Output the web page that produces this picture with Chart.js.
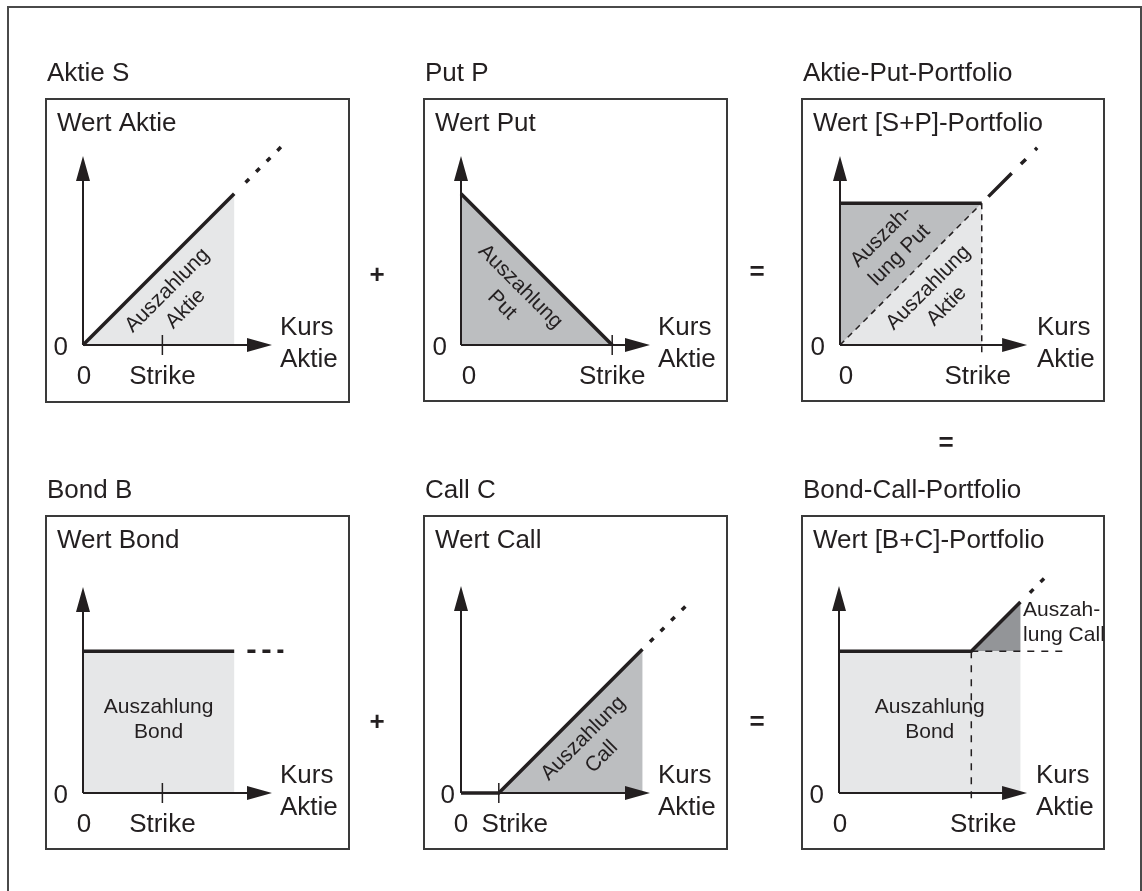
<!DOCTYPE html>
<html>
<head>
<meta charset="utf-8">
<script src="https://cdn.jsdelivr.net/npm/chart.js@4.4.1/dist/chart.umd.min.js"></script>
<style>
html,body{margin:0;padding:0;background:#fff;overflow:hidden;}
#wrap{position:relative;width:1142px;height:891px;overflow:hidden;background:#fff;}
#frame{position:absolute;left:7px;top:6px;width:1131px;height:1000px;border:2px solid #4a4a4a;border-bottom:none;}
canvas{position:absolute;left:0;top:0;}
</style>
</head>
<body>
<div id="wrap">
<div id="frame"></div>
<canvas id="c0" width="1142" height="891"></canvas>
<canvas id="c1" width="1142" height="891"></canvas>
<canvas id="c2" width="1142" height="891"></canvas>
<canvas id="c3" width="1142" height="891"></canvas>
<canvas id="c4" width="1142" height="891"></canvas>
<canvas id="c5" width="1142" height="891"></canvas>
</div>
<script>
// ---------------- texts ----------------
const panelTitles = ['Aktie S', 'Put P', 'Aktie-Put-Portfolio', 'Bond B', 'Call C', 'Bond-Call-Portfolio'];
const valueAxisLabels = ['Wert Aktie', 'Wert Put', 'Wert [S+P]-Portfolio', 'Wert Bond', 'Wert Call', 'Wert [B+C]-Portfolio'];
const priceAxisLabel = ['Kurs', 'Aktie'];
const strikeLabel = 'Strike';
const zeroLabel = '0';
const operators = ['+', '=', '=', '+', '='];
const payoffLabels = [
  [['Auszahlung', 'Aktie']],
  [['Auszahlung', 'Put']],
  [['Auszah-', 'lung Put'], ['Auszahlung', 'Aktie']],
  [['Auszahlung', 'Bond']],
  [['Auszahlung', 'Call']],
  [['Auszah-', 'lung Call'], ['Auszahlung', 'Bond']]
];

// ---------------- values (Kurs = x, Wert = y) ----------------
const strikes = [42, 80, 75, 42, 20, 70];

// Aktie S
const stockKurs = [0, 80];
const stockWert = [0, 80];
const stockExtKurs = [86, 106];
const stockExtWert = [86, 106];

// Put P
const putKurs = [0, 80];
const putWert = [80, 0];

// Aktie-Put-Portfolio
const spKurs = [0, 75];
const spWert = [75, 75];
const spStockKurs = [0, 75];
const spStockWert = [0, 75];
const spExtKurs = [78.5, 105];
const spExtWert = [78.5, 105];

// Bond B
const bondKurs = [0, 80];
const bondWert = [75, 75];
const bondExtKurs = [87, 106];
const bondExtWert = [75, 75];

// Call C
const callKurs = [0, 20, 96];
const callWert = [0, 0, 76];
const callExtKurs = [100, 121];
const callExtWert = [80, 101];

// Bond-Call-Portfolio
const bcKurs = [0, 70, 96];
const bcWert = [75, 75, 101];
const bcExtKurs = [101, 111];
const bcExtWert = [106, 116];
const bcBondRefKurs = [70, 121];
const bcBondRefWert = [75, 75];

// ---------------- layout / style ----------------
const INK = '#231f20';
const BOXC = '#3a3a3a';
const LIGHT = '#e6e7e8', MEDIUM = '#bcbec0', DARK = '#939598';
const PPU = 1.89;
const FONT = '"Liberation Sans", Arial, sans-serif';
const W = 1142, H = 891;
const RANGE = {xmin: -15, xmax: 130, ymin: -15, ymax: 125};
const TICK_LOW = -5.3;

const layout = [
  {box: [46, 99, 303, 303],  origin: [83, 345],  tip: [100, 100],   zeroY: 15, zeroX: 1, strikeDx: 0,  tick: true},
  {box: [424, 99, 303, 302], origin: [461, 345], tip: [100, 100],   zeroY: 14, zeroX: 8, strikeDx: 0,  tick: true},
  {box: [802, 99, 302, 302], origin: [840, 345], tip: [99, 100],    zeroY: 15, zeroX: 6, strikeDx: -4, tick: false},
  {box: [46, 516, 303, 333], origin: [83, 793],  tip: [100, 109],   zeroY: 15, zeroX: 1, strikeDx: 0,  tick: true},
  {box: [424, 516, 303, 333], origin: [461, 793], tip: [100, 109.5], zeroY: 6, zeroX: 0, strikeDx: 16, tick: true},
  {box: [802, 516, 302, 333], origin: [839, 793], tip: [99.5, 109.5], zeroY: 15, zeroX: 1, strikeDx: 12, tick: false}
];
const payoffLabelLayout = [
  [{at: [49.5, 24], rot: -45, align: 'center', lh: 26}],
  [{at: [26.5, 26], rot: 45, align: 'center', lh: 26}],
  [{at: [26.7, 52.4], rot: -45, align: 'center', lh: 26}, {at: [51.6, 25.4], rot: -45, align: 'center', lh: 26}],
  [{at: [40, 38.6], rot: 0, align: 'center', lh: 25}],
  [{at: [69.6, 24], rot: -45, align: 'center', lh: 26}],
  [{at: [97.4, 90], rot: 0, align: 'left', lh: 25}, {at: [48, 38.6], rot: 0, align: 'center', lh: 25}]
];
const operatorPos = [[377, 276], [757, 273], [946, 444], [377, 723], [757, 723]];

// ---------------- helpers ----------------
function pts(xs, ys) { return xs.map((x, i) => ({x: x, y: ys[i]})); }
function lineDs(xs, ys, extra) {
  return Object.assign({
    data: pts(xs, ys), fill: false, borderColor: INK, borderWidth: 3.5,
    pointRadius: 0, clip: false, borderCapStyle: 'butt', borderJoinStyle: 'miter', order: 1
  }, extra || {});
}
function thinDash(xs, ys, dash) {
  return lineDs(xs, ys, {borderWidth: 1.5, borderDash: dash, order: 5});
}
function areaDs(points, color) {
  return {data: points, fill: 'shape', backgroundColor: color, borderColor: 'rgba(0,0,0,0)',
          borderWidth: 0, pointRadius: 0, clip: false, order: 10};
}
function last(a) { return a[a.length - 1]; }

function textBlock(ctx, lines, x, y, rotDeg, align, lh, font) {
  ctx.save();
  ctx.translate(x, y);
  ctx.rotate(rotDeg * Math.PI / 180);
  ctx.font = font;
  ctx.fillStyle = INK;
  ctx.textAlign = align;
  ctx.textBaseline = 'middle';
  const n = lines.length;
  lines.forEach((t, i) => ctx.fillText(t, 0, (i - (n - 1) / 2) * lh));
  ctx.restore();
}

function panelPlugin(i) {
  const L = layout[i];
  return {
    id: 'panel' + i,
    beforeDatasetsDraw(chart) {
      const ctx = chart.ctx, xs = chart.scales.x, ys = chart.scales.y;
      const x0 = xs.getPixelForValue(0), y0 = ys.getPixelForValue(0);
      const xt = xs.getPixelForValue(L.tip[0]), yt = ys.getPixelForValue(L.tip[1]);
      ctx.save();
      ctx.strokeStyle = INK; ctx.fillStyle = INK; ctx.lineWidth = 2;
      ctx.beginPath();
      ctx.moveTo(x0, y0); ctx.lineTo(xt - 20, y0);
      ctx.moveTo(x0, y0); ctx.lineTo(x0, yt + 20);
      ctx.stroke();
      ctx.beginPath();
      ctx.moveTo(xt, y0); ctx.lineTo(xt - 25, y0 - 7); ctx.lineTo(xt - 25, y0 + 7); ctx.closePath();
      ctx.moveTo(x0, yt); ctx.lineTo(x0 - 7, yt + 25); ctx.lineTo(x0 + 7, yt + 25); ctx.closePath();
      ctx.fill();
      if (L.tick) {
        const sx = xs.getPixelForValue(strikes[i]);
        ctx.lineWidth = 1.5;
        ctx.beginPath(); ctx.moveTo(sx, y0 - 10); ctx.lineTo(sx, y0 + 10); ctx.stroke();
      }
      ctx.restore();
    },
    afterDatasetsDraw(chart) {
      const ctx = chart.ctx, xs = chart.scales.x, ys = chart.scales.y;
      const x0 = xs.getPixelForValue(0), y0 = ys.getPixelForValue(0);
      const [bx, by, bw, bh] = L.box;
      ctx.save();
      ctx.strokeStyle = BOXC; ctx.lineWidth = 2;
      ctx.strokeRect(bx, by, bw, bh);
      ctx.fillStyle = INK;
      ctx.font = '26px ' + FONT;
      ctx.textBaseline = 'alphabetic';
      ctx.textAlign = 'left';
      ctx.fillText(panelTitles[i], bx + 1, by - 18);
      ctx.fillText(valueAxisLabels[i], bx + 11, by + 32);
      ctx.fillText(priceAxisLabel[0], x0 + 197, y0 - 10);
      ctx.fillText(priceAxisLabel[1], x0 + 197, y0 + 22);
      ctx.textAlign = 'right';
      ctx.fillText(zeroLabel, x0 - L.zeroY, y0 + 10);
      ctx.textAlign = 'center';
      ctx.fillText(zeroLabel, x0 + L.zeroX, y0 + 39);
      ctx.fillText(strikeLabel, xs.getPixelForValue(strikes[i]) + L.strikeDx, y0 + 39);
      ctx.restore();
      payoffLabels[i].forEach((lines, k) => {
        const pl = payoffLabelLayout[i][k];
        textBlock(ctx, lines, xs.getPixelForValue(pl.at[0]), ys.getPixelForValue(pl.at[1]),
                  pl.rot, pl.align, pl.lh, '21px ' + FONT);
      });
      if (i === 0) {
        ctx.save();
        ctx.fillStyle = INK; ctx.font = 'bold 26px ' + FONT;
        ctx.textAlign = 'center'; ctx.textBaseline = 'middle';
        operators.forEach((op, k) => ctx.fillText(op, operatorPos[k][0], operatorPos[k][1]));
        ctx.restore();
      }
    }
  };
}

function makeChart(i, datasets) {
  const L = layout[i];
  const left = L.origin[0] + RANGE.xmin * PPU;
  const right = L.origin[0] + RANGE.xmax * PPU;
  const top = L.origin[1] - RANGE.ymax * PPU;
  const bottom = L.origin[1] - RANGE.ymin * PPU;
  return new Chart(document.getElementById('c' + i), {
    type: 'line',
    data: {datasets: datasets},
    options: {
      responsive: false, animation: false, events: [], devicePixelRatio: 1,
      layout: {padding: {left: left, right: W - right, top: top, bottom: H - bottom}},
      scales: {
        x: {type: 'linear', display: false, min: RANGE.xmin, max: RANGE.xmax},
        y: {type: 'linear', display: false, min: RANGE.ymin, max: RANGE.ymax}
      },
      plugins: {legend: {display: false}, tooltip: {enabled: false}, title: {display: false},
                filler: {drawTime: 'beforeDatasetsDraw'}},
      elements: {line: {tension: 0}, point: {radius: 0}}
    },
    plugins: [panelPlugin(i)]
  });
}

// Panel 1: Aktie S
makeChart(0, [
  areaDs([...pts(stockKurs, stockWert), {x: last(stockKurs), y: 0}], LIGHT),
  lineDs(stockKurs, stockWert),
  lineDs(stockExtKurs, stockExtWert, {borderDash: [5, 10]})
]);

// Panel 2: Put P
makeChart(1, [
  areaDs([{x: 0, y: 0}, ...pts(putKurs, putWert)], MEDIUM),
  lineDs(putKurs, putWert)
]);

// Panel 3: Aktie-Put-Portfolio
makeChart(2, [
  areaDs([{x: 0, y: 0}, ...pts(spKurs, spWert)], MEDIUM),
  areaDs([...pts(spStockKurs, spStockWert), {x: last(spStockKurs), y: 0}], LIGHT),
  thinDash(spStockKurs, spStockWert, [6, 5]),
  thinDash([strikes[2], strikes[2]], [last(spWert), TICK_LOW], [6, 5]),
  lineDs(spKurs, spWert),
  lineDs(spExtKurs, spExtWert, {borderDash: [33, 13, 7, 13, 3, 80]})
]);

// Panel 4: Bond B
makeChart(3, [
  areaDs([{x: 0, y: 0}, ...pts(bondKurs, bondWert), {x: last(bondKurs), y: 0}], LIGHT),
  lineDs(bondKurs, bondWert),
  lineDs(bondExtKurs, bondExtWert, {borderDash: [8, 7]})
]);

// Panel 5: Call C
makeChart(4, [
  areaDs([...pts(callKurs.slice(1), callWert.slice(1)), {x: last(callKurs), y: 0}], MEDIUM),
  lineDs(callKurs, callWert),
  lineDs(callExtKurs, callExtWert, {borderDash: [5, 10]})
]);

// Panel 6: Bond-Call-Portfolio
makeChart(5, [
  areaDs([{x: 0, y: 0}, {x: 0, y: bcWert[0]}, {x: last(bcKurs), y: bcWert[1]}, {x: last(bcKurs), y: 0}], LIGHT),
  areaDs([...pts(bcKurs.slice(1), bcWert.slice(1)), {x: last(bcKurs), y: bcWert[1]}], DARK),
  thinDash([strikes[5], strikes[5]], [bcWert[1], TICK_LOW], [7, 7]),
  thinDash(bcBondRefKurs, bcBondRefWert, [7, 7]),
  lineDs(bcKurs, bcWert),
  lineDs(bcExtKurs, bcExtWert, {borderDash: [5, 10]})
]);
</script>
</body>
</html>
